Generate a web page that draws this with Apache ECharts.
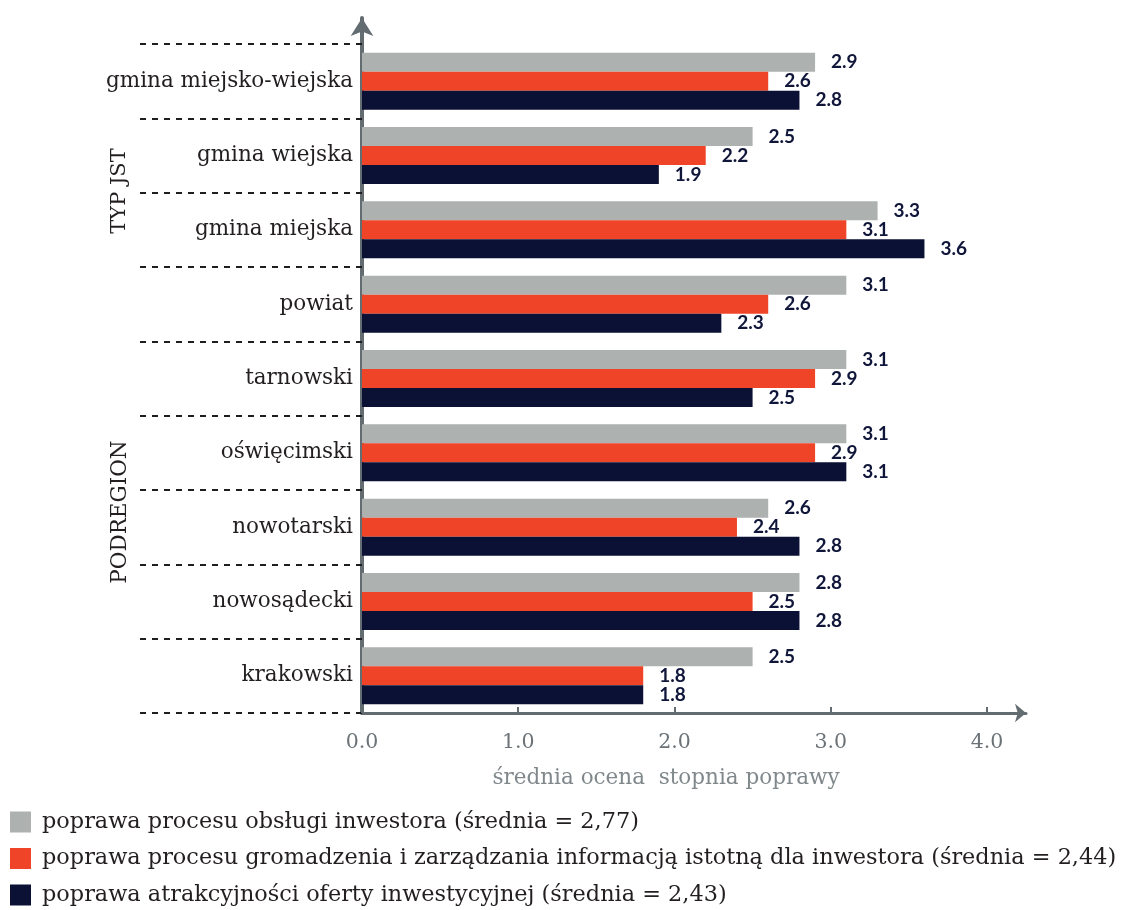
<!DOCTYPE html>
<html>
<head>
<meta charset="utf-8">
<title>Ocena stopnia poprawy</title>
<script src="https://cdn.jsdelivr.net/npm/echarts@6/dist/echarts.min.js"></script>
<style>
  html, body { margin: 0; padding: 0; background: #ffffff; }
  #chart { width: 1122px; height: 910px; }
</style>
</head>
<body>
<div id="chart"></div>
<script>
// Categories, top to bottom
const categories = [
  'gmina miejsko-wiejska',
  'gmina wiejska',
  'gmina miejska',
  'powiat',
  'tarnowski',
  'oświęcimski',
  'nowotarski',
  'nowosądecki',
  'krakowski'
];

// Average improvement scores per category
const obslugaInwestora = [2.9, 2.5, 3.3, 3.1, 3.1, 3.1, 2.6, 2.8, 2.5];
const gromadzenieInformacji = [2.6, 2.2, 3.1, 2.6, 2.9, 2.9, 2.4, 2.5, 1.8];
const atrakcyjnoscOferty = [2.8, 1.9, 3.6, 2.3, 2.5, 3.1, 2.8, 2.8, 1.8];

const seriesNames = [
  'poprawa procesu obsługi inwestora (średnia = 2,77)',
  'poprawa procesu gromadzenia i zarządzania informacją istotną dla inwestora (średnia = 2,44)',
  'poprawa atrakcyjności oferty inwestycyjnej (średnia = 2,43)'
];

const xTicks = [0, 1, 2, 3, 4];
const groupLabels = ['TYP JST', 'PODREGION'];

const colors = ['#adb1b0', '#ef4427', '#0b1035'];
const axisColor = '#636c71';
const textDark = '#231f20';
const serif = '"DejaVu Serif", serif';

const chart = echarts.init(document.getElementById('chart'));

function barSeries(name, data, color) {
  return {
    name: name,
    type: 'bar',
    xAxisIndex: 0,
    yAxisIndex: 0,
    data: data,
    barWidth: 19,
    barGap: '0%',
    itemStyle: { color: color },
    label: {
      show: true,
      position: 'right',
      distance: 16,
      fontFamily: 'Lato',
      fontWeight: 'bold',
      fontSize: 19,
      color: '#10163a',
      formatter: p => p.value.toFixed(1)
    },
    emphasis: { disabled: true }
  };
}

chart.setOption({
  animation: false,
  color: colors,
  grid: [
    { left: 362, right: 96, top: 44, bottom: 197, containLabel: false },
    { left: 362, right: 96, top: 18, bottom: 197, containLabel: false }
  ],
  legend: {
    orient: 'vertical',
    left: 10,
    top: 809,
    padding: 0,
    itemWidth: 21,
    itemHeight: 21,
    itemGap: 10.5,
    icon: 'rect',
    textStyle: { fontFamily: serif, fontSize: 22.4, lineHeight: 26, color: textDark, padding: [0, 0, 0, 6] },
    data: seriesNames
  },
  xAxis: [
    {
      type: 'value',
      gridIndex: 0,
      min: 0,
      max: 4.25,
      name: 'średnia ocena  stopnia poprawy',
      nameLocation: 'middle',
      nameGap: 54,
      nameTextStyle: { fontFamily: serif, fontSize: 21.5, color: '#80888c', padding: [0, 56, 0, 0] },
      axisLine: {
        show: true,
        symbol: ['none', 'arrow'],
        symbolSize: [14, 11],
        lineStyle: { color: axisColor, width: 3 }
      },
      axisTick: {
        show: true,
        inside: true,
        length: 6,
        customValues: xTicks,
        lineStyle: { color: axisColor, width: 2 }
      },
      axisLabel: {
        customValues: xTicks,
        margin: 19,
        fontFamily: serif,
        fontSize: 20.5,
        color: '#6b7378',
        formatter: v => v.toFixed(1)
      },
      splitLine: { show: false }
    },
    {
      type: 'value',
      gridIndex: 1,
      min: 0,
      max: 1,
      show: false
    }
  ],
  yAxis: [
    {
      type: 'category',
      gridIndex: 0,
      data: categories,
      inverse: true,
      axisLine: { show: false },
      axisTick: {
        show: true,
        interval: 0,
        length: 225,
        lineStyle: { color: '#1e1e1e', width: 2, type: [6, 6] }
      },
      axisLabel: {
        interval: 0,
        margin: 9,
        fontFamily: serif,
        fontSize: 21.5,
        color: textDark
      }
    },
    {
      type: 'value',
      gridIndex: 1,
      min: 0,
      max: 1,
      axisLine: {
        show: true,
        symbol: ['none', 'arrow'],
        symbolSize: [17, 18],
        lineStyle: { color: axisColor, width: 4 }
      },
      axisTick: { show: false },
      axisLabel: { show: false },
      splitLine: { show: false }
    }
  ],
  graphic: [
    {
      type: 'text',
      x: 120,
      y: 191,
      rotation: Math.PI / 2,
      style: {
        text: groupLabels[0],
        fontFamily: serif,
        fontSize: 21,
        fill: textDark,
        align: 'center',
        verticalAlign: 'middle'
      }
    },
    {
      type: 'text',
      x: 120,
      y: 512,
      rotation: Math.PI / 2,
      style: {
        text: groupLabels[1],
        fontFamily: serif,
        fontSize: 21.5,
        fill: textDark,
        align: 'center',
        verticalAlign: 'middle'
      }
    }
  ],
  series: [
    barSeries(seriesNames[0], obslugaInwestora, colors[0]),
    barSeries(seriesNames[1], gromadzenieInformacji, colors[1]),
    barSeries(seriesNames[2], atrakcyjnoscOferty, colors[2])
  ]
});
</script>
</body>
</html>
